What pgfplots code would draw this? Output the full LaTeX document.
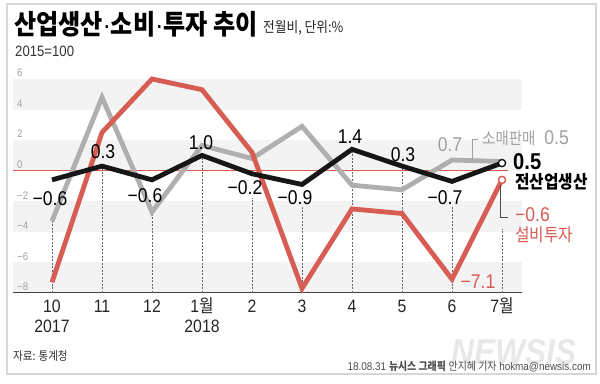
\documentclass[border=0pt]{standalone}
\usepackage{fontspec}
\usepackage{pgfplots}
\pgfplotsset{compat=1.18}
\setmainfont[FakeStretch=0.88]{Liberation Sans}
\newfontfamily\kr[FakeStretch=0.88]{Noto Sans CJK KR}
\definecolor{cred}{RGB}{214,92,84}
\definecolor{cgray}{RGB}{175,175,175}
\definecolor{cblack}{RGB}{22,22,22}
\definecolor{band}{RGB}{243,243,243}
\definecolor{lblgray}{RGB}{160,160,160}
\definecolor{framec}{RGB}{215,215,215}
\begin{document}
\begin{tikzpicture}[x=1bp,y=1bp]
\useasboundingbox (0,0) rectangle (600,383);
\fill[white] (0,0) rectangle (600,383);
\draw[framec, line width=1.5bp] (7,379) rectangle (596,9);
% title
\node[anchor=base west, inner sep=0] at (14,349) {\kr\bfseries\fontsize{27.5}{27.5}\selectfont 산업생산{\rmfamily\mdseries·}소비{\rmfamily\mdseries·}투자 추이};
\node[anchor=base west, inner sep=0, text=black!85] at (263,351) {\kr\fontsize{14.5}{14.5}\selectfont 전월비, 단위:\%};
\node[anchor=base west, inner sep=0, text=black!80] at (15,327) {\fontsize{15}{15}\selectfont 2015=100};
% source + footer
\node[text=black!9, font=\bfseries\itshape\fontsize{36}{36}\selectfont, inner sep=0] at (514,31) {NEWSIS};
\node[anchor=base west, inner sep=0, text=black!80] at (13,23) {\kr\fontsize{12}{12}\selectfont 자료: 통계청};
\node[anchor=base east, inner sep=0, text=black!70] at (591,13) {\fontsize{11.3}{11.3}\selectfont 18.08.31 {\kr\bfseries 뉴시스 그래픽} {\kr 안지혜 기자} hokma@newsis.com};
\begin{axis}[
  anchor=origin, at={(52bp,212.3bp)},
  scale only axis, width=509bp, height=214bp,
  xmin=-0.78, xmax=9.4, ymin=-8, ymax=6,
  axis on top,
  axis line style={draw=none},
  major tick length=0pt,
  clip=false,
  ytick={-8,-6,-4,-2,0,2,4,6},
  yticklabels={−8,−6,−4,−2,0,2,4,6},
  yticklabel style={anchor=south west, inner sep=0, xshift=4bp, yshift=2bp, text=lblgray, font=\fontsize{11}{11}\selectfont},
  xtick={0,...,9},
  xticklabels={10,11,12,1{\kr 월},2,3,4,5,6,7{\kr 월}},
  xticklabel style={anchor=base, inner sep=0, yshift=-20bp, text=black!85, font=\fontsize{18}{18}\selectfont},
]
% bands
\fill[band] (axis cs:-0.78,4) rectangle (axis cs:9.4,6);
\fill[band] (axis cs:-0.78,0) rectangle (axis cs:9.4,2);
\fill[band] (axis cs:-0.78,-4) rectangle (axis cs:9.4,-2);
\fill[band] (axis cs:-0.78,-8) rectangle (axis cs:9.4,-6);
\draw[black!75, line width=1bp] (axis cs:-0.78,-8) -- (axis cs:9.4,-8);
\draw[cred, line width=1bp] (axis cs:-0.78,0) -- (axis cs:9.12,0);
% dashed guides
\pgfplotsset{guide/.style={black!60, line width=0.6bp, dash pattern=on 2bp off 1.5bp, forget plot}}
\addplot[guide] coordinates {(0,-8) (0,-3.3)};
\addplot[guide] coordinates {(1,-8) (1,0.3)};
\addplot[guide] coordinates {(2,-8) (2,-2.7)};
\addplot[guide] coordinates {(3,-8) (3,1.0)};
\addplot[guide] coordinates {(4,-8) (4,-1.8)};
\addplot[guide] coordinates {(5,-8) (5,-2.4)};
\addplot[guide] coordinates {(6,-8) (6,1.4)};
\addplot[guide] coordinates {(7,-8) (7,0.3)};
\addplot[guide] coordinates {(8,-8) (8,-2.4)};
\addplot[guide] coordinates {(9,-8) (9,-3.8)};
% series
\addplot[cgray, line width=4.8bp, line join=miter, mark=none] coordinates {
 (0,-3.3) (1,4.8) (2,-2.7) (3,1.65) (4,0.8) (5,2.9) (6,-0.95) (7,-1.25) (8,0.7) (9,0.6)};
\addplot[cred, line width=4.8bp, line join=miter, mark=none] coordinates {
 (0,-7.3) (1,2.5) (2,6.0) (3,5.3) (4,1.2) (5,-7.7) (6,-2.5) (7,-2.8) (8,-7.1) (9,-0.6)};
\addplot[cblack, line width=4.8bp, line join=miter, mark=none] coordinates {
 (0,-0.6) (1,0.3) (2,-0.6) (3,1.0) (4,-0.2) (5,-0.9) (6,1.4) (7,0.3) (8,-0.7) (9,0.5)};
\addplot[only marks, mark=*, mark size=3.6bp, mark options={fill=white, draw=cblack, line width=1.4bp}] coordinates {(9,0.5)};
\addplot[only marks, mark=*, mark size=3.6bp, mark options={fill=white, draw=cred, line width=1.4bp}] coordinates {(9,-0.6)};
% leaders
\draw[lblgray, line width=1bp] (axis cs:8.4,0.76) -- (axis cs:8.4,2.07) -- (axis cs:8.52,2.07);
\draw[black!70, line width=0.9bp] (axis cs:8.96,-0.95) -- (axis cs:8.96,-3.05) -- (axis cs:9.12,-3.05);
% value labels
\tikzset{lbl/.style={inner sep=0, font=\fontsize{20}{20}\selectfont}}
\node[lbl] at (axis cs:-0.04,-1.8) {−0.6};
\node[lbl] at (axis cs:1.02,1.22) {0.3};
\node[lbl] at (axis cs:1.86,-1.6) {−0.6};
\node[lbl] at (axis cs:2.98,1.81) {1.0};
\node[lbl] at (axis cs:3.86,-1.13) {−0.2};
\node[lbl] at (axis cs:4.86,-1.79) {−0.9};
\node[lbl] at (axis cs:5.96,2.2) {1.4};
\node[lbl] at (axis cs:7.02,1.03) {0.3};
\node[lbl] at (axis cs:7.86,-1.79) {−0.7};
\node[lbl, text=lblgray] at (axis cs:7.96,1.68) {0.7};
\node[lbl, text=cred] at (axis cs:8.52,-7.29) {−7.1};
\node[lbl, anchor=west, font=\bfseries\fontsize{23}{23}\selectfont] at (axis cs:9.22,0.57) {0.5};
\node[inner sep=0, anchor=west] at (axis cs:9.26,-0.74) {\kr\bfseries\fontsize{18}{18}\selectfont 전산업생산};
\node[inner sep=0, anchor=west, text=lblgray] at (axis cs:8.6,2.14) {{\kr\fontsize{16.5}{16.5}\selectfont 소매판매}\hspace{9bp}{\fontsize{20}{20}\selectfont 0.5}};
\node[lbl, anchor=west, text=cred] at (axis cs:9.26,-2.9) {−0.6};
\node[inner sep=0, anchor=west, text=cred] at (axis cs:9.26,-4.2) {\kr\fontsize{18}{18}\selectfont 설비투자};
% years
\node[inner sep=0, anchor=base, font=\fontsize{18}{18}\selectfont, text=black!85] at (axis cs:0,-8) [yshift=-40bp] {2017};
\node[inner sep=0, anchor=base, font=\fontsize{18}{18}\selectfont, text=black!85] at (axis cs:3,-8) [yshift=-40bp] {2018};
\end{axis}
\end{tikzpicture}
\end{document}
